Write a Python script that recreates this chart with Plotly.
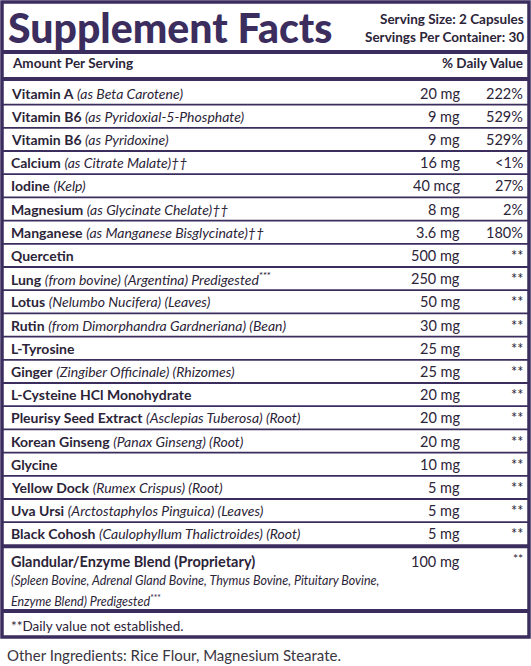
import plotly.graph_objects as go

names = ["Vitamin A", "Vitamin B6", "Vitamin B6", "Calcium", "Iodine", "Magnesium", "Manganese",
         "Quercetin", "Lung", "Lotus", "Rutin", "L-Tyrosine", "Ginger", "L-Cysteine HCl Monohydrate",
         "Pleurisy Seed Extract", "Korean Ginseng", "Glycine", "Yellow Dock", "Uva Ursi", "Black Cohosh"]
sources = ["(as Beta Carotene)", "(as Pyridoxial-5-Phosphate)", "(as Pyridoxine)", "(as Citrate Malate)††",
           "(Kelp)", "(as Glycinate Chelate)††", "(as Manganese Bisglycinate)††", "",
           "(from bovine) (Argentina) Predigested<sup>***</sup>", "(Nelumbo Nucifera) (Leaves)",
           "(from Dimorphandra Gardneriana) (Bean)", "", "(Zingiber Officinale) (Rhizomes)", "",
           "(Asclepias Tuberosa) (Root)", "(Panax Ginseng) (Root)", "", "(Rumex Crispus) (Root)",
           "(Arctostaphylos Pinguica) (Leaves)", "(Caulophyllum Thalictroides) (Root)"]
amounts = ["20 mg", "9 mg", "9 mg", "16 mg", "40 mcg", "8 mg", "3.6 mg", "500 mg", "250 mg", "50 mg",
           "30 mg", "25 mg", "25 mg", "20 mg", "20 mg", "20 mg", "10 mg", "5 mg", "5 mg", "5 mg"]
dvs = ["222%", "529%", "529%", "<1%", "27%", "2%", "180%", "**", "**", "**",
       "**", "**", "**", "**", "**", "**", "**", "**", "**", "**"]
blend_name = "Glandular/Enzyme Blend (Proprietary)"
blend_amount = "100 mg"
blend_dv = "**"
blend_lines = ["(Spleen Bovine, Adrenal Gland Bovine, Thymus Bovine, Pituitary Bovine,",
               "Enzyme Blend) Predigested<sup>***</sup>"]

PUR = "#3b2d5e"
TXT = "#2c2438"
FONT = "Lato"

fig = go.Figure()
shapes = []
ann = []

def text(x, y, t, size=14, anchor="left", color=TXT, family=FONT):
    ann.append(dict(x=x, y=y, text=t, showarrow=False, xanchor=anchor, yanchor="middle",
                    font=dict(size=size, color=color, family=family)))

def hline(y, w):
    shapes.append(dict(type="line", x0=3, x1=528, y0=y, y1=y, line=dict(color=PUR, width=w)))

shapes.append(dict(type="rect", x0=2, x1=529, y0=2, y1=637, line=dict(color=PUR, width=3.5)))

text(6, 27, "<b>Supplement Facts</b>", size=41, color=PUR, family="Lato Black, Lato")
text(526, 19, "<b>Serving Size: 2 Capsules</b>", size=13.5, anchor="right")
text(526, 37, "<b>Servings Per Container: 30</b>", size=13.5, anchor="right")
hline(52, 4)
text(10, 63, "<b>Amount Per Serving</b>", size=13.5)
text(525, 63, "<b>% Daily Value</b>", size=13.5, anchor="right")
hline(79, 4)

y0, dy = 93, 23.2
for i, (n, s, a, d) in enumerate(zip(names, sources, amounts, dvs)):
    y = y0 + i * dy
    t = f"<b>{n}</b>" + (f" <i>{s}</i>" if s else "")
    text(9, y, t, size=14)
    text(462, y, a, size=14.5, anchor="right")
    text(525, y, d, size=14.5, anchor="right")
    if i < len(names) - 1:
        hline(y + dy / 2, 1.8)

ylast = y0 + (len(names) - 1) * dy
hline(ylast + 12.5, 4)
text(9, 561, f"<b>{blend_name}</b>", size=14.5)
text(462, 561, blend_amount, size=14.5, anchor="right")
text(525, 558, blend_dv, size=12, anchor="right")
text(9, 580, f"<i>{blend_lines[0]}</i>", size=12.5)
text(9, 600, f"<i>{blend_lines[1]}</i>", size=12.5)
hline(611, 4)
text(9, 626, "**Daily value not established.", size=13.5)
text(5, 655, "Other Ingredients: Rice Flour, Magnesium Stearate.", size=15, color="#3a3540")

fig.update_layout(width=531, height=666, margin=dict(l=0, r=0, t=0, b=0),
                  paper_bgcolor="white", plot_bgcolor="white",
                  xaxis=dict(range=[0, 531], visible=False, fixedrange=True),
                  yaxis=dict(range=[666, 0], visible=False, fixedrange=True),
                  shapes=shapes, annotations=ann, showlegend=False)
fig.write_html("out.html", config={"displayModeBar": False},
               post_script="document.body.style.margin='0';document.body.style.overflow='hidden';")
